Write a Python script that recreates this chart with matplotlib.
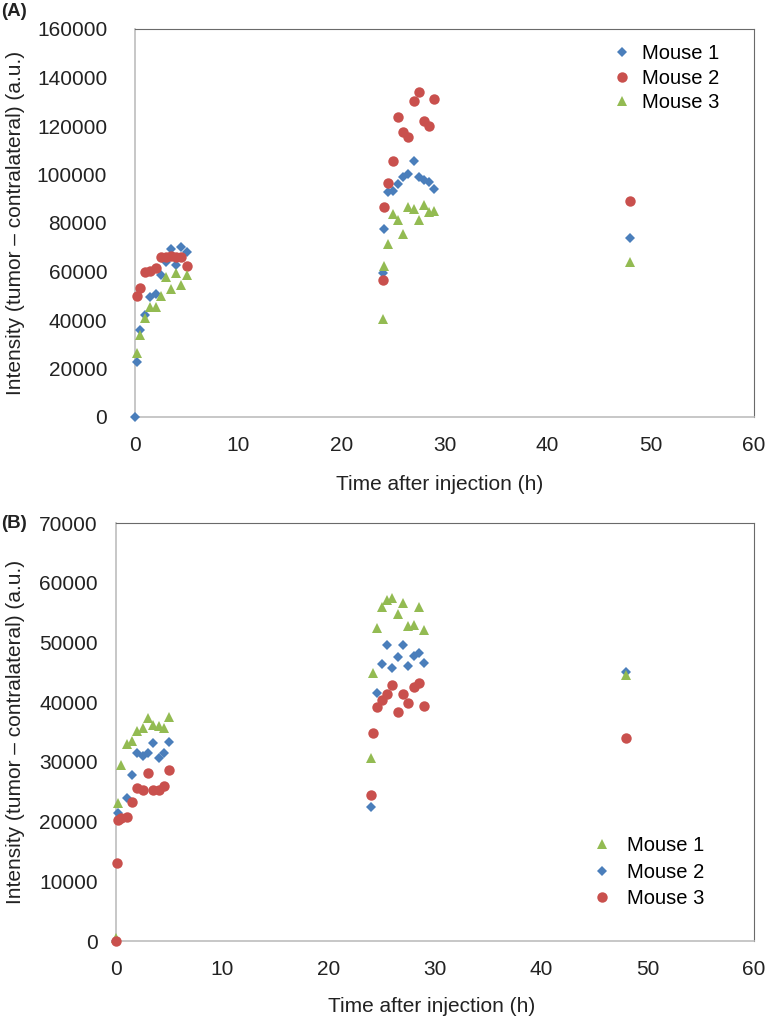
import numpy as np
import matplotlib
matplotlib.use("Agg")
import matplotlib.pyplot as plt

plt.rcParams['font.family'] = ['Liberation Sans', 'DejaVu Sans']

nan = np.nan
# ---------------- Panel A data ----------------
hours_A = [0, 0.17, 0.5, 1, 1.5, 2, 2.5, 3, 3.5, 4, 4.5, 5,
           24, 24.17, 24.5, 25, 25.5, 26, 26.5, 27, 27.5, 28, 28.5, 29, 48]
mouse1_A = [0, 22700, 35700, 41900, 49400, 50800, 58400, 63900, 69400, 62500, 70300, 68000,
            59300, 77600, 92700, 93400, 96100, 98900, 100300, 105500, 98900, 97800, 96800, 94100, 74000]
mouse2_A = [nan, 50100, 53000, 59700, 60400, 61300, 65900, 65900, 66200, 65900, 65900, 62100,
            56300, 86800, 96400, 105500, 123900, 117400, 115600, 130200, 133900, 122200, 120200, 131200, 89000]
mouse3_A = [nan, 26200, 33700, 40700, 45300, 45300, 50100, 57700, 52600, 59200, 54300, 58400,
            40500, 62400, 71400, 83800, 81300, 75500, 86800, 85800, 81300, 87600, 84400, 84900, 64000]

# ---------------- Panel B data ----------------
hours_B = [0, 0.07, 0.17, 0.5, 1, 1.5, 2, 2.5, 3, 3.5, 4, 4.5, 5,
           24, 24.17, 24.5, 25, 25.5, 26, 26.5, 27, 27.5, 28, 28.5, 29, 48]
mouse1_B = [500, nan, 23100, 29500, 33000, 33500, 35200, 35700, 37300, 36200, 36000, 35600, 37500,
            30700, 44900, 52400, 56000, 57100, 57400, 54800, 56600, 52800, 52900, 55900, 52100, 44500]
mouse2_B = [0, nan, 21400, nan, 23900, 27800, 31400, 30900, 31400, 33100, 30600, 31500, 33400,
            22500, nan, 41600, 46400, 49600, 45700, 47600, 49600, 46000, 47800, 48200, 46600, 45000]
mouse3_B = [0, 13000, 20300, 20600, 20700, 23200, 25700, 25300, 28100, 25300, 25300, 26000, 28600,
            24500, 34800, 39200, 40400, 41400, 42900, 38400, 41400, 39800, 42500, 43200, 39400, 34000]

xticks = [0, 10, 20, 30, 40, 50, 60]
yticks_A = list(range(0, 160001, 20000))
yticks_B = list(range(0, 70001, 10000))

BLUE = '#4A7EBB'
RED = '#C9504D'
GREEN = '#93BB52'
TXT = '#222222'

W, H = 766, 1022
fig = plt.figure(figsize=(W / 100, H / 100), dpi=100)


def rect(l, r, t, b):
    return [l / W, 1 - b / H, (r - l) / W, (b - t) / H]


axA = fig.add_axes(rect(135, 754, 29, 417))
axB = fig.add_axes(rect(116, 754, 523, 941))

ylabel = 'Intensity (tumor \u2013 contralateral) (a.u.)'
xlabel = 'Time after injection (h)'

styles = {
    'D': dict(marker='D', markersize=5.0),
    'o': dict(marker='o', markersize=7.5),
    '^': dict(marker='^', markersize=7.7),
}


def draw(ax, hours, series, ytk, ypad):
    for vals, m, c, lab in series:
        ax.plot(hours, vals, linestyle='none', color=c, markeredgewidth=0,
                label=lab, clip_on=False, zorder=3, **styles[m])
    ax.set_xlim(0, 60)
    ax.set_ylim(0, ytk[-1])
    ax.set_xticks(xticks)
    ax.set_yticks(ytk)
    ax.tick_params(axis='both', length=0, labelsize=15, colors=TXT)
    ax.tick_params(axis='x', pad=13.5)
    ax.tick_params(axis='y', pad=ypad)
    for s in ['left', 'bottom']:
        ax.spines[s].set_color('#BDBDBD')
        ax.spines[s].set_linewidth(1.2)
    for s in ['top', 'right']:
        ax.spines[s].set_color('#6A6A6A')
        ax.spines[s].set_linewidth(0.8)


draw(axA, hours_A, [(mouse1_A, 'D', BLUE, 'Mouse 1'),
                    (mouse2_A, 'o', RED, 'Mouse 2'),
                    (mouse3_A, '^', GREEN, 'Mouse 3')], yticks_A, 20)
draw(axB, hours_B, [(mouse2_B, 'D', BLUE, 'Mouse 2'),
                    (mouse1_B, '^', GREEN, 'Mouse 1'),
                    (mouse3_B, 'o', RED, 'Mouse 3')], yticks_B, 13)

# axis labels
axA.set_ylabel(ylabel, fontsize=15, color=TXT, va='center')
axA.yaxis.set_label_coords(16 / W, 1 - 223 / H, transform=fig.transFigure)
axA.set_xlabel(xlabel, fontsize=15, color=TXT, va='center')
axA.xaxis.set_label_coords(440 / W, 1 - 484 / H, transform=fig.transFigure)

axB.set_ylabel(ylabel, fontsize=15, color=TXT, va='center')
axB.yaxis.set_label_coords(16 / W, 1 - 732 / H, transform=fig.transFigure)
axB.set_xlabel(xlabel, fontsize=15, color=TXT, va='center')
axB.xaxis.set_label_coords(432 / W, 1 - 1006 / H, transform=fig.transFigure)

# panel letters
fig.text(1 / W, 1 - 12 / H, '(A)', fontsize=13.5, fontweight='bold', va='center', ha='left', color=TXT)
fig.text(1 / W, 1 - 523 / H, '(B)', fontsize=13.5, fontweight='bold', va='center', ha='left', color=TXT)

# legends
hA, lA = axA.get_legend_handles_labels()
axA.legend(hA, lA, loc='upper left', bbox_to_anchor=(612 / W, 1 - 44 / H),
           bbox_transform=fig.transFigure, frameon=False, borderpad=0, borderaxespad=0,
           handlelength=1.0, handletextpad=0.49, labelspacing=0.28, fontsize=14.5,
           numpoints=1)
hB, lB = axB.get_legend_handles_labels()
order = [1, 0, 2]
axB.legend([hB[i] for i in order], [lB[i] for i in order], loc='upper left',
           bbox_to_anchor=(592 / W, 1 - 836 / H), bbox_transform=fig.transFigure,
           frameon=False, borderpad=0, borderaxespad=0, handlelength=1.0,
           handletextpad=0.74, labelspacing=0.38, fontsize=14.5, numpoints=1)

fig.savefig('out.png', dpi=100)
